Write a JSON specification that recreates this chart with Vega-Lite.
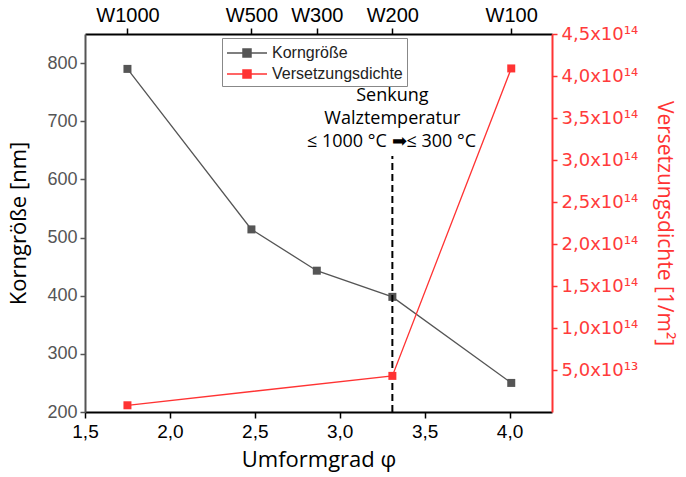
{
  "$schema": "https://vega.github.io/schema/vega-lite/v6.json",
  "width": 467,
  "height": 378,
  "autosize": {"type": "none"},
  "padding": {"left": 85, "top": 34, "right": 134, "bottom": 65},
  "background": "white",
  "config": {
    "view": {"stroke": null},
    "axis": {"grid": false, "labelFont": "Liberation Sans", "titleFont": "Open Sans", "titleFontWeight": "normal"},
    "legend": {
      "orient": "none", "legendX": 137, "legendY": 4,
      "fillColor": "white", "strokeColor": "#888888", "padding": 4,
      "labelFont": "Liberation Sans", "labelFontSize": 16, "labelColor": "#222222", "labelOffset": 14,
      "symbolType": "M-2,0H2M-0.4,-0.4H0.4V0.4H-0.4Z", "symbolSize": 400, "symbolStrokeWidth": 1.5, "symbolOffset": 10,
      "rowPadding": 2, "title": null
    }
  },
  "datasets": {
    "korn": [
      {"phi": 1.75, "series": "Korngröße", "value": 790},
      {"phi": 2.48, "series": "Korngröße", "value": 514},
      {"phi": 2.865, "series": "Korngröße", "value": 443},
      {"phi": 3.31, "series": "Korngröße", "value": 398},
      {"phi": 4.01, "series": "Korngröße", "value": 250}
    ],
    "vers": [
      {"phi": 1.75, "series": "Versetzungsdichte", "value": 8e12},
      {"phi": 3.31, "series": "Versetzungsdichte", "value": 4.3e13},
      {"phi": 4.01, "series": "Versetzungsdichte", "value": 4.09e14}
    ],
    "rule": [{"phi": 3.31, "y0": 200, "y1": 640}],
    "anno": [
      {"phi": 3.31, "ty": 734, "text": "Senkung"},
      {"phi": 3.31, "ty": 695, "text": "Walztemperatur"},
      {"phi": 3.305, "ty": 656, "text": "≤ 1000 °C ➡≤ 300 °C"}
    ]
  },
  "layer": [
    {
      "layer": [
        {
          "data": {"name": "korn"},
          "mark": {"type": "line", "strokeWidth": 1.3},
          "encoding": {
            "x": {"field": "phi", "type": "quantitative", "scale": {"domain": [1.5, 4.25], "nice": false, "zero": false},
              "axis": {"orient": "bottom", "values": [1.5, 2.0, 2.5, 3.0, 3.5, 4.0], "labelExpr": "replace(format(datum.value, '.1f'), '.', ',')",
                "domainColor": "black", "domainWidth": 2, "tickColor": "black", "tickWidth": 1.5, "tickSize": 6,
                "labelFontSize": 19, "labelColor": "black", "labelPadding": 4, "labelFlush": false,
                "title": "Umformgrad φ", "titleFontSize": 22, "titleColor": "black", "titlePadding": 8}},
            "y": {"field": "value", "type": "quantitative", "scale": {"domain": [200, 850], "nice": false, "zero": false},
              "axis": {"orient": "left", "values": [200, 300, 400, 500, 600, 700, 800],
                "domainColor": "#555555", "domainWidth": 2, "tickColor": "#555555", "tickWidth": 1.5, "tickSize": 5,
                "labelFontSize": 18, "labelColor": "#555555", "labelPadding": 3, "labelFlush": false,
                "title": "Korngröße [nm]", "titleFontSize": 22, "titleColor": "black", "titlePadding": 16}},
            "color": {"field": "series", "type": "nominal", "scale": {"domain": ["Korngröße", "Versetzungsdichte"], "range": ["#555555", "#ff3333"]}}
          }
        },
        {
          "data": {"name": "korn"},
          "mark": {"type": "point", "shape": "square", "filled": true, "size": 64, "opacity": 1},
          "encoding": {
            "x": {"field": "phi", "type": "quantitative", "scale": {"domain": [1.5, 4.25], "nice": false, "zero": false}},
            "y": {"field": "value", "type": "quantitative"},
            "color": {"field": "series", "type": "nominal"}
          }
        },
        {
          "data": {"name": "rule"},
          "mark": {"type": "rule", "color": "black", "strokeWidth": 2, "strokeDash": [7, 4]},
          "encoding": {
            "x": {"field": "phi", "type": "quantitative", "scale": {"domain": [1.5, 4.25], "nice": false, "zero": false}},
            "y": {"field": "y0", "type": "quantitative"},
            "y2": {"field": "y1"}
          }
        },
        {
          "data": {"name": "anno"},
          "mark": {"type": "text", "font": "Open Sans", "fontSize": 18, "align": "center", "baseline": "alphabetic", "color": "black"},
          "encoding": {
            "x": {"field": "phi", "type": "quantitative", "scale": {"domain": [1.5, 4.25], "nice": false, "zero": false}},
            "y": {"field": "ty", "type": "quantitative"},
            "text": {"field": "text", "type": "nominal"}
          }
        }
      ]
    },
    {
      "layer": [
        {
          "data": {"name": "vers"},
          "mark": {"type": "line", "strokeWidth": 1.3},
          "encoding": {
            "x": {"field": "phi", "type": "quantitative", "scale": {"domain": [1.5, 4.25], "nice": false, "zero": false},
              "axis": {"orient": "top", "values": [1.75, 2.48, 2.865, 3.31, 4.01],
                "labelExpr": "datum.value < 2 ? 'W1000' : datum.value < 2.6 ? 'W500' : datum.value < 3 ? 'W300' : datum.value < 3.5 ? 'W200' : 'W100'",
                "domainColor": "black", "domainWidth": 2, "tickColor": "black", "tickWidth": 1.5, "tickSize": 6,
                "labelFontSize": 20, "labelColor": "black", "labelPadding": 3, "labelFlush": false, "title": null}},
            "y": {"field": "value", "type": "quantitative", "scale": {"domain": [0, 4.5e14], "nice": false, "zero": false},
              "axis": {"orient": "right", "values": [5e13, 1e14, 1.5e14, 2e14, 2.5e14, 3e14, 3.5e14, 4e14, 4.5e14],
                "labelExpr": "datum.value >= 1e14 ? replace(format(datum.value / 1e14, '.1f'), '.', ',') + 'x10¹⁴' : replace(format(datum.value / 1e13, '.1f'), '.', ',') + 'x10¹³'",
                "domainColor": "#ff3333", "domainWidth": 2, "tickColor": "#ff3333", "tickWidth": 1.5, "tickSize": 5,
                "labelFontSize": 18, "labelColor": "#ff3b3b", "labelFont": "DejaVu Sans", "labelPadding": 4, "labelFlush": false,
                "title": "Versetzungsdichte [1/m²]", "titleFontSize": 21, "titleColor": "#ff3333", "titlePadding": 16}},
            "color": {"field": "series", "type": "nominal"}
          }
        },
        {
          "data": {"name": "vers"},
          "mark": {"type": "point", "shape": "square", "filled": true, "size": 64, "opacity": 1},
          "encoding": {
            "x": {"field": "phi", "type": "quantitative", "scale": {"domain": [1.5, 4.25], "nice": false, "zero": false},
              "axis": {"orient": "top", "values": [1.75, 2.48, 2.865, 3.31, 4.01],
                "labelExpr": "datum.value < 2 ? 'W1000' : datum.value < 2.6 ? 'W500' : datum.value < 3 ? 'W300' : datum.value < 3.5 ? 'W200' : 'W100'",
                "domainColor": "black", "domainWidth": 2, "tickColor": "black", "tickWidth": 1.5, "tickSize": 6,
                "labelFontSize": 20, "labelColor": "black", "labelPadding": 3, "labelFlush": false, "title": null}},
            "y": {"field": "value", "type": "quantitative"},
            "color": {"field": "series", "type": "nominal"}
          }
        }
      ]
    }
  ],
  "resolve": {"scale": {"y": "independent"}, "axis": {"x": "independent", "y": "independent"}}
}
